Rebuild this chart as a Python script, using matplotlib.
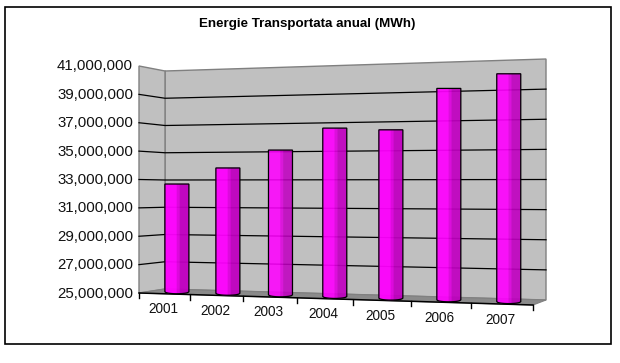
import numpy as np
import matplotlib
matplotlib.use('Agg')
import matplotlib.pyplot as plt
from matplotlib.patches import Polygon, Rectangle

plt.rcParams['font.family'] = ['Liberation Sans', 'DejaVu Sans']

years = ['2001', '2002', '2003', '2004', '2005', '2006', '2007']
energy = [32.7e6, 33.85e6, 35.1e6, 36.6e6, 36.45e6, 39.2e6, 40.1e6]
y_ticks = [25e6, 27e6, 29e6, 31e6, 33e6, 35e6, 37e6, 39e6, 41e6]
title = 'Energie Transportata anual (MWh)'

y_min, y_max = 25e6, 41e6

# box corners in pixels, (depth, side): depth 0 front, 1 back
x_corner = {(0, 0): 139, (0, 1): 533, (1, 0): 165, (1, 1): 546}
bottom_corner = {(0, 0): 293, (0, 1): 305, (1, 0): 289, (1, 1): 300}
top_corner = {(0, 0): 66, (0, 1): 60, (1, 0): 71, (1, 1): 59}


def project(u, val, d):
    # u along the categories 0-1, val in MWh, d depth 0-1
    u = np.asarray(u, dtype=float)
    w = u / (1 + 0.12 * (1 - u))  # perspective squeeze
    x0 = x_corner[0, 0] + w * (x_corner[0, 1] - x_corner[0, 0])
    x1 = x_corner[1, 0] + w * (x_corner[1, 1] - x_corner[1, 0])
    b0 = bottom_corner[0, 0] + w * (bottom_corner[0, 1] - bottom_corner[0, 0])
    b1 = bottom_corner[1, 0] + w * (bottom_corner[1, 1] - bottom_corner[1, 0])
    t0 = top_corner[0, 0] + w * (top_corner[0, 1] - top_corner[0, 0])
    t1 = top_corner[1, 0] + w * (top_corner[1, 1] - top_corner[1, 0])
    f = (val - y_min) / (y_max - y_min)
    x = x0 + d * (x1 - x0)
    b = b0 + d * (b1 - b0)
    t = t0 + d * (t1 - t0)
    return x, b + f * (t - b)


fig = plt.figure(figsize=(6.2, 3.63), dpi=100)
ax = fig.add_axes([0, 0, 1, 1])
ax.set_xlim(0, 620)
ax.set_ylim(363, 0)
ax.axis('off')

ax.add_patch(Rectangle((4.5, 6.5), 606, 337.5, fc='white', ec='black', lw=1.2))
ax.text(307.5, 24, title, ha='center', va='center', fontsize=9.6, fontweight='bold')

# walls and floor
wall = '#c0c0c0'
edge = '#808080'
back = [project(0, y_min, 1), project(1, y_min, 1), project(1, y_max, 1), project(0, y_max, 1)]
left = [project(0, y_min, 0), project(0, y_min, 1), project(0, y_max, 1), project(0, y_max, 0)]
floor = [project(0, y_min, 0), project(1, y_min, 0), project(1, y_min, 1), project(0, y_min, 1)]
ax.add_patch(Polygon(back, fc=wall, ec=edge, lw=1, zorder=1))
ax.add_patch(Polygon(left, fc=wall, ec=edge, lw=1, zorder=1))
ax.add_patch(Polygon(floor, fc='#8a8a8a', ec=edge, lw=0.8, zorder=1.5))

# gridlines and value labels, the top one stays as the grey wall edge
for v in y_ticks:
    if y_min < v < y_max:
        pts = [project(0, v, 0), project(0, v, 1), project(1, v, 1)]
        ax.plot(*zip(*pts), color='black', lw=0.9, zorder=2)
    x, y = project(0, v, 0)
    ax.text(x - 6, y + 0.5, f'{v:,.0f}', ha='right', va='center', fontsize=10.8, color='#111111')

# front axis with ticks
ax.plot(*zip(project(0, y_min, 0), project(1, y_min, 0)), color='black', lw=1.1, zorder=2)
for i in range(len(years) + 1):
    x, y = project(i / len(years), y_min, 0)
    ax.plot([x, x], [y, y + 5], color='black', lw=1, zorder=2)

# bars, drawn as strips with a curved foot so they look round
half_w = 12
t = np.linspace(-1, 1, 25)
foot = 2.0 * np.sqrt(1 - t ** 2)
shade = np.where(t < 0.0, '#ff00ff', np.where(t < 0.25, '#e000e0', '#c000c0'))
for i, (year, val) in enumerate(zip(years, energy)):
    u = (i + 0.5) / len(years)
    xc, y_base = project(u, y_min, 0.5)
    _, y_top = project(u, val, 0.5)
    xs = xc + half_w * t
    for j in range(len(t) - 1):
        strip = [(xs[j], y_top), (xs[j + 1], y_top),
                 (xs[j + 1], y_base + foot[j + 1]), (xs[j], y_base + foot[j])]
        ax.add_patch(Polygon(strip, fc=shade[j], ec=shade[j], lw=0.2, zorder=3))
    outline = [(xs[0], y_top)] + [(x, y_base + f) for x, f in zip(xs, foot)] + [(xs[-1], y_top)]
    ax.add_patch(Polygon(outline, fc='none', ec='black', lw=0.9, zorder=4))
    xl, yl = project(u, y_min, 0)
    ax.text(xl - 1, yl + 15.5, year, ha='center', va='center', fontsize=9.8, color='#111111')

fig.savefig('out.png', dpi=100)
